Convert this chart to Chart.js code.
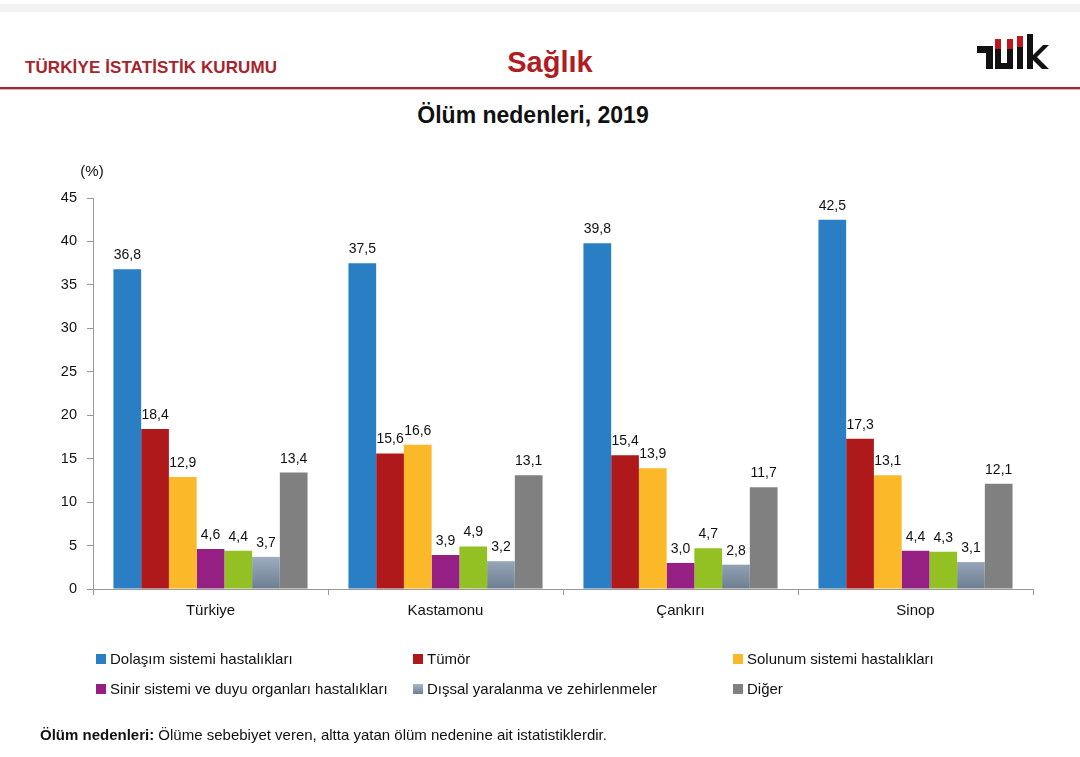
<!DOCTYPE html>
<html><head><meta charset="utf-8">
<script src="https://cdn.jsdelivr.net/npm/chart.js@4/dist/chart.umd.min.js"></script>
<style>
html,body{margin:0;padding:0;background:#fff;}
body{width:1080px;height:757px;position:relative;overflow:hidden;font-family:"Liberation Sans",Arial,sans-serif;color:#111;}
#topstrip{position:absolute;left:0;top:4px;width:1080px;height:8px;background:#f3f3f3;}
#org{position:absolute;left:25px;top:58px;font-family:"Liberation Sans Narrow","Liberation Sans",sans-serif;font-weight:bold;font-size:17px;color:#a8232b;letter-spacing:0.1px;}
#sec{position:absolute;left:0;width:1100px;text-align:center;top:46px;font-weight:bold;font-size:29px;color:#b01c24;}
#rule{position:absolute;left:0;top:87px;width:1080px;height:2px;background:#a52a33;}
#rule2{position:absolute;left:0;top:89px;width:1080px;height:1px;background:#d9b0b3;}
#title{position:absolute;left:0;width:1066px;text-align:center;top:102px;font-weight:bold;font-size:23px;color:#111;}
#logo{position:absolute;left:975px;top:33px;}
#c{position:absolute;left:0;top:0;}
#legend{position:absolute;left:96px;top:650px;width:980px;}
.li{position:absolute;font-size:15px;color:#111;white-space:nowrap;}
.li span.sw{display:inline-block;width:10px;height:10px;margin-right:4px;vertical-align:0px;}
#foot{position:absolute;left:40px;top:726px;font-size:15px;color:#111;}
</style></head>
<body>
<div id="topstrip"></div>
<div id="org">TÜRKİYE İSTATİSTİK KURUMU</div>
<div id="sec">Sağlık</div>
<svg id="logo" width="76" height="40" viewBox="0 0 76 40">
  <rect x="2" y="13" width="16" height="7" fill="#111"/>
  <rect x="11" y="13" width="7" height="23" fill="#111"/>
  <rect x="20" y="6" width="6" height="10" fill="#c0161f"/>
  <rect x="20" y="16" width="6" height="20" fill="#111"/>
  <rect x="32" y="6" width="6" height="10" fill="#c0161f"/>
  <rect x="32" y="16" width="6" height="20" fill="#111"/>
  <rect x="20" y="30" width="18" height="6" fill="#111"/>
  <rect x="42" y="3" width="6" height="11" fill="#c0161f"/>
  <rect x="42" y="14" width="6" height="22" fill="#111"/>
  <rect x="52" y="1" width="6" height="35" fill="#111"/>
  <polygon points="58,22 68,12 74,12 62,24 74,36 67,36 58,27" fill="#111"/>
</svg>
<div id="rule"></div><div id="rule2"></div>
<div id="title">Ölüm nedenleri, 2019</div>
<canvas id="c" width="1080" height="757"></canvas>
<div id="legend"></div>
<div id="foot"><b>Ölüm nedenleri:</b> Ölüme sebebiyet veren, altta yatan ölüm nedenine ait istatistiklerdir.</div>
<script>
// ---- data ----
const categories = ['Türkiye', 'Kastamonu', 'Çankırı', 'Sinop'];
const seriesNames = [
  'Dolaşım sistemi hastalıkları',
  'Tümör',
  'Solunum sistemi hastalıkları',
  'Sinir sistemi ve duyu organları hastalıkları',
  'Endokrin, beslenme ve metabolizma hastalıkları',
  'Dışsal yaralanma ve zehirlenmeler',
  'Diğer'
];
const dolasim = [36.8, 37.5, 39.8, 42.5];
const tumor   = [18.4, 15.6, 15.4, 17.3];
const solunum = [12.9, 16.6, 13.9, 13.1];
const sinir   = [4.6, 3.9, 3.0, 4.4];
const endokrin = [4.4, 4.9, 4.7, 4.3];
const dissal  = [3.7, 3.2, 2.8, 3.1];
const diger   = [13.4, 13.1, 11.7, 12.1];
const yMin = 0, yMax = 45, yStep = 5;
const legendOrder = [0, 1, 2, 3, 5, 6];

// ---- styles ----
const colors = ['#2a7fc4', '#b0191c', '#fbb829', '#951f82', '#93c023', '#94a5b8', '#808080'];
const seriesValues = [dolasim, tumor, solunum, sinir, endokrin, dissal, diger];

function dissalGradient(ctx) {
  const ca = ctx.chart.chartArea;
  if (!ca) return colors[5];
  const g = ctx.chart.ctx.createLinearGradient(0, ca.bottom - 40, 0, ca.bottom);
  g.addColorStop(0, '#a9b8c9');
  g.addColorStop(1, '#6d7e91');
  return g;
}

const datasets = seriesValues.map((vals, i) => ({
  label: seriesNames[i],
  data: vals,
  backgroundColor: i === 5 ? dissalGradient : colors[i],
  borderWidth: 0,
  categoryPercentage: 0.826,
  barPercentage: 1.0
}));

const FONT = '"Liberation Sans", Arial, sans-serif';

const labelPlugin = {
  id: 'vlabels',
  afterDatasetsDraw(chart) {
    const c = chart.ctx;
    c.save();
    c.font = '14px ' + FONT;
    c.fillStyle = '#111';
    c.textAlign = 'center';
    c.textBaseline = 'alphabetic';
    chart.data.datasets.forEach((ds, di) => {
      const meta = chart.getDatasetMeta(di);
      meta.data.forEach((bar, j) => {
        const v = ds.data[j];
        c.fillText(v.toFixed(1).replace('.', ','), bar.x, bar.y - 10);
      });
    });
    const ca = chart.chartArea;
    c.font = '15px ' + FONT;
    c.fillText('(%)', ca.left - 1, ca.top - 22);
    c.restore();
  }
};

new Chart(document.getElementById('c'), {
  type: 'bar',
  data: { labels: categories, datasets },
  options: {
    responsive: false,
    animation: false,
    layout: { padding: { left: 0, right: 47, top: 198, bottom: 128 } },
    plugins: { legend: { display: false }, tooltip: { enabled: false }, title: { display: false } },
    scales: {
      x: {
        grid: { offset: true, drawOnChartArea: false, drawTicks: true, tickLength: 6, color: '#999' },
        border: { color: '#999', width: 1 },
        ticks: { font: { family: FONT, size: 15 }, color: '#111', padding: 7 },
        afterFit(s) { s.height = 40; }
      },
      y: {
        min: yMin, max: yMax,
        grid: { drawOnChartArea: false, drawTicks: true, tickLength: 6, color: '#999' },
        border: { color: '#999', width: 1 },
        ticks: { stepSize: yStep, font: { family: FONT, size: 14.5 }, color: '#111', padding: 10 },
        afterFit(s) { s.width = 93; }
      }
    }
  },
  plugins: [labelPlugin]
});

// ---- HTML legend ----
const legendPos = [[0, 0], [317, 0], [637, 0], [0, 30], [317, 30], [637, 30]];
const leg = document.getElementById('legend');
legendOrder.forEach((si, k) => {
  const d = document.createElement('div');
  d.className = 'li';
  d.style.left = legendPos[k][0] + 'px';
  d.style.top = legendPos[k][1] + 'px';
  const sw = document.createElement('span');
  sw.className = 'sw';
  sw.style.background = si === 5 ? 'linear-gradient(#a9b8c9,#6d7e91)' : colors[si];
  d.appendChild(sw);
  d.appendChild(document.createTextNode(seriesNames[si]));
  leg.appendChild(d);
});
</script>
</body></html>
